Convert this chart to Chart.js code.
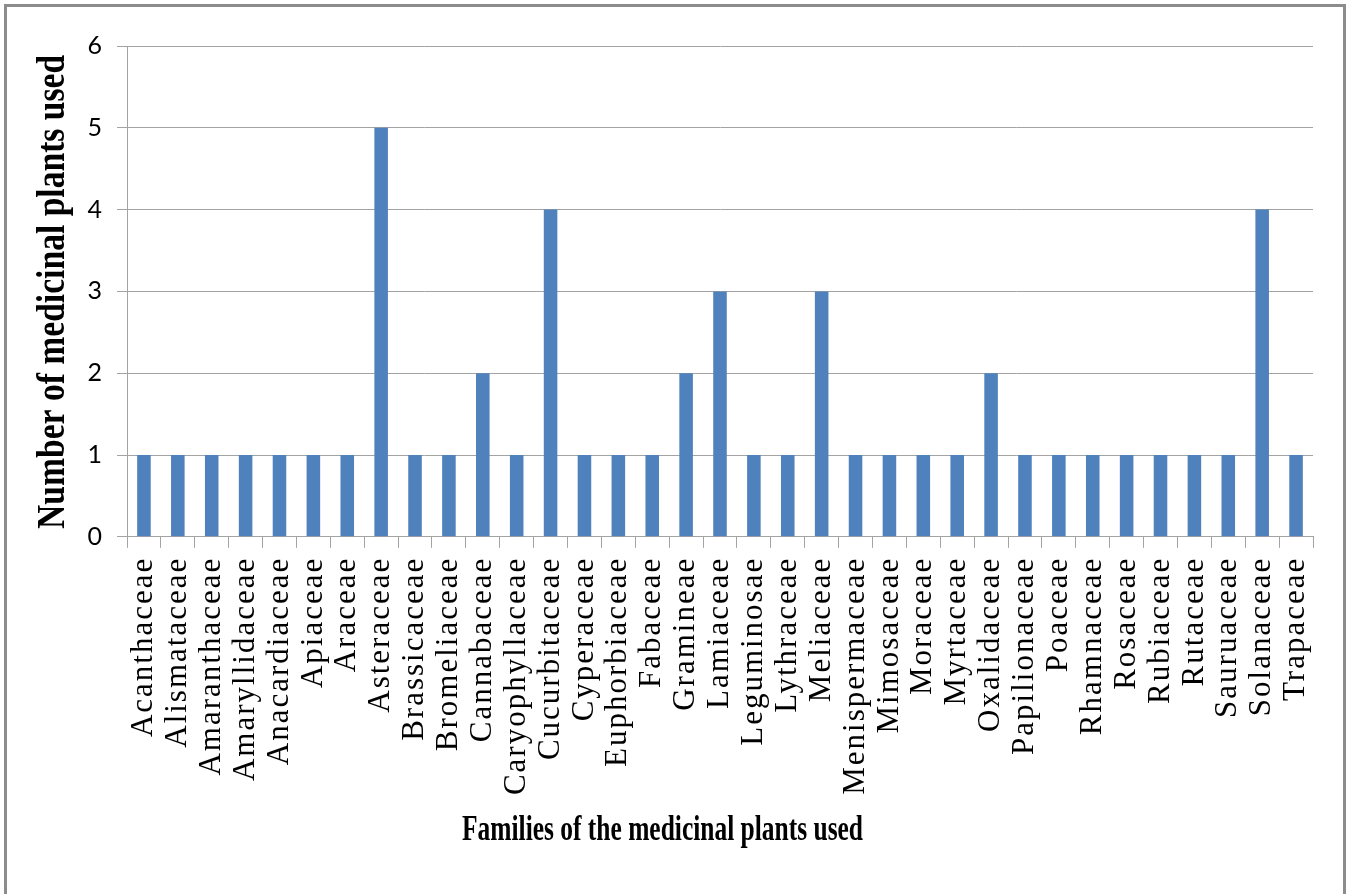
<!DOCTYPE html>
<html>
<head>
<meta charset="utf-8">
<script src="https://cdn.jsdelivr.net/npm/chart.js@4.4.1/dist/chart.umd.min.js"></script>
<style>
  html, body { margin: 0; padding: 0; background: #fff; overflow: hidden; }
  #wrap { position: relative; width: 1349px; height: 894px; }
  #frame {
    position: absolute; left: 4px; top: 4px; width: 1336px; height: 900px;
    border: 3px solid #8c8c8c;
  }
  #chart { position: absolute; left: 0; top: 0; }
</style>
</head>
<body>
<div id="wrap">
  <div id="frame"></div>
  <canvas id="chart" width="1349" height="894"></canvas>
</div>
<script>
// families (x categories) and number of plants per family
const families = [
  "Acanthaceae", "Alismataceae", "Amaranthaceae", "Amaryllidaceae", "Anacardiaceae",
  "Apiaceae", "Araceae", "Asteraceae", "Brassicaceae", "Bromeliaceae",
  "Cannabaceae", "Caryophyllaceae", "Cucurbitaceae", "Cyperaceae", "Euphorbiaceae",
  "Fabaceae", "Gramineae", "Lamiaceae", "Leguminosae", "Lythraceae",
  "Meliaceae", "Menispermaceae", "Mimosaceae", "Moraceae", "Myrtaceae",
  "Oxalidaceae", "Papilionaceae", "Poaceae", "Rhamnaceae", "Rosaceae",
  "Rubiaceae", "Rutaceae", "Sauruaceae", "Solanaceae", "Trapaceae"
];
const plantCounts = [
  1, 1, 1, 1, 1,
  1, 1, 5, 1, 1,
  2, 1, 4, 1, 1,
  1, 2, 3, 1, 1,
  3, 1, 1, 1, 1,
  2, 1, 1, 1, 1,
  1, 1, 1, 4, 1
];
const yTicks = [0, 1, 2, 3, 4, 5, 6];

const xTitle = "Families of the medicinal plants used";
const yTitle = "Number of medicinal plants used";

const gridColor = "#a3a3a3";

// squeeze the bottom title into the same box as the original
const titleBox = {
  id: "titleBox",
  afterLayout(chart) {
    chart.titleBlock.left = 462;
    chart.titleBlock.right = 863;
  }
};

const chart = new Chart(document.getElementById("chart"), {
  type: "bar",
  data: {
    labels: families,
    datasets: [{
      data: plantCounts,
      backgroundColor: "#4f81bd",
      borderWidth: 0,
      barPercentage: 0.4,
      categoryPercentage: 1
    }]
  },
  options: {
    responsive: false,
    animation: false,
    events: [],
    layout: { padding: { left: 0, right: 36, top: 46, bottom: 0 } },
    plugins: {
      legend: { display: false },
      tooltip: { enabled: false },
      title: {
        display: true,
        position: "bottom",
        text: xTitle,
        color: "#000",
        font: { family: "'Liberation Serif', 'Times New Roman', serif", size: 36, weight: "bold" },
        padding: { top: 0, bottom: 42 }
      }
    },
    scales: {
      x: {
        grid: {
          display: true,
          offset: true,
          drawOnChartArea: false,
          drawTicks: true,
          tickLength: 11,
          color: gridColor
        },
        border: { display: true, color: gridColor },
        ticks: {
          autoSkip: false,
          minRotation: 90,
          maxRotation: 90,
          padding: 9,
          color: "#000",
          font: { family: "'Liberation Serif', 'Times New Roman', serif", size: 31 }
        },
        afterFit(scale) { scale.height = 272; }
      },
      y: {
        min: 0,
        max: 6,
        afterBuildTicks(scale) { scale.ticks = yTicks.map(v => ({ value: v })); },
        grid: { color: gridColor, tickLength: 10, lineWidth: 1 },
        border: { display: true, color: gridColor },
        ticks: {
          padding: 15,
          color: "#000",
          font: { family: "Lato, 'Noto Sans', sans-serif", size: 25 }
        },
        title: {
          display: true,
          text: yTitle,
          color: "#000",
          font: { family: "'Liberation Serif', 'Times New Roman', serif", size: 40, weight: "bold" },
          padding: { top: 30, bottom: 0 }
        },
        afterFit(scale) { scale.width = 127; }
      }
    }
  },
  plugins: [titleBox]
});

// the family names are set a little wider apart in the original
const xScale = chart.scales.x;
const drawXLabels = xScale.drawLabels.bind(xScale);
xScale.drawLabels = function (area) {
  const ctx = this.ctx;
  ctx.save();
  ctx.letterSpacing = "2px";
  drawXLabels(area);
  ctx.restore();
};

// the y title is condensed along its length in the original
const yScale = chart.scales.y;
const drawYTitle = yScale.drawTitle.bind(yScale);
yScale.drawTitle = function () {
  const ctx = this.ctx;
  const cy = (this.top + this.bottom) / 2 + 3;
  ctx.save();
  ctx.translate(0, cy);
  ctx.scale(1, 0.84);
  ctx.translate(0, -cy);
  drawYTitle();
  ctx.restore();
};
chart.draw();
</script>
</body>
</html>
